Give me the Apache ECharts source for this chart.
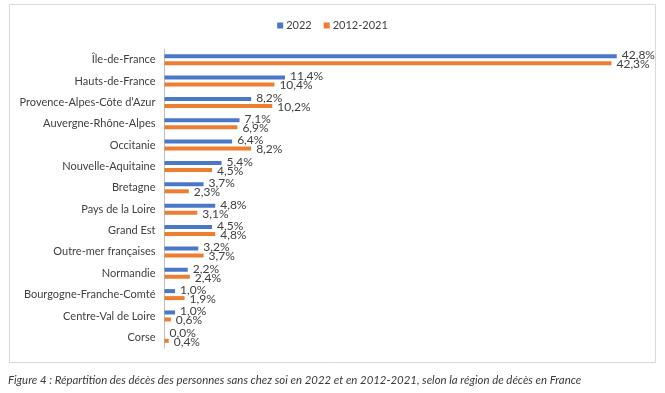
<!DOCTYPE html>
<html><head><meta charset="utf-8">
<script src="https://cdn.jsdelivr.net/npm/echarts@6/dist/echarts.min.js"></script>
<style>html,body{margin:0;padding:0;background:#fff}#c{width:665px;height:393px}</style>
</head><body><div id="c"></div>
<script>
const categories = ["Île-de-France","Hauts-de-France","Provence-Alpes-Côte d’Azur","Auvergne-Rhône-Alpes","Occitanie","Nouvelle-Aquitaine","Bretagne","Pays de la Loire","Grand Est","Outre-mer françaises","Normandie","Bourgogne-Franche-Comté","Centre-Val de Loire","Corse"];
const values2022 = [42.8,11.4,8.2,7.1,6.4,5.4,3.7,4.8,4.5,3.2,2.2,1.0,1.0,0.0];
const values20122021 = [42.3,10.4,10.2,6.9,8.2,4.5,2.3,3.1,4.8,3.7,2.4,1.9,0.6,0.4];
const seriesNames = ["2022","2012-2021"];
const caption = "Figure 4 : Répartition des décès des personnes sans chez soi en 2022 et en 2012-2021, selon la région de décès en France";

const FONT = 'Lato,"Open Sans",sans-serif';
const fmt = p => p.value.toFixed(1).replace('.', ',') + '%';
const chart = echarts.init(document.getElementById('c'));
chart.setOption({
  animation:false,
  textStyle:{fontFamily:FONT},
  legend:{top:15,left:'center',itemWidth:6,itemHeight:6,itemGap:12,icon:'rect',
    textStyle:{fontFamily:FONT,fontSize:11,color:'#404040',padding:[0,0,0,-2]},data:seriesNames},
  grid:{left:164.5,right:25,top:49,bottom:45,containLabel:false},
  xAxis:{type:'value',min:0,max:45,show:false},
  yAxis:{type:'category',data:categories,inverse:true,
    axisLine:{lineStyle:{color:'#bfbfbf'}},axisTick:{show:false},
    axisLabel:{fontFamily:FONT,fontSize:11,color:'#404040',margin:9}},
  series:[
    {name:seriesNames[0],type:'bar',data:values2022,barWidth:4,barGap:'75%',
     itemStyle:{color:'#4a77c6'},
     label:{show:true,position:'right',distance:5,offset:[0,-1],formatter:fmt,fontFamily:FONT,fontSize:12,color:'#404040'}},
    {name:seriesNames[1],type:'bar',data:values20122021,barWidth:4,barGap:'75%',
     itemStyle:{color:'#ed7d31'},
     label:{show:true,position:'right',distance:5,offset:[0,1],formatter:fmt,fontFamily:FONT,fontSize:12,color:'#404040'}}
  ],
  graphic:[
    {type:'rect',silent:true,z:-1,shape:{x:9.5,y:4.5,width:646,height:358},
     style:{fill:'none',stroke:'#d9d9d9',lineWidth:1}},
    {type:'text',left:8,top:375,style:{text:caption,fontFamily:FONT,fontStyle:'italic',fontSize:11.4,fill:'#3a3a3a'}}
  ]
});
</script></body></html>
